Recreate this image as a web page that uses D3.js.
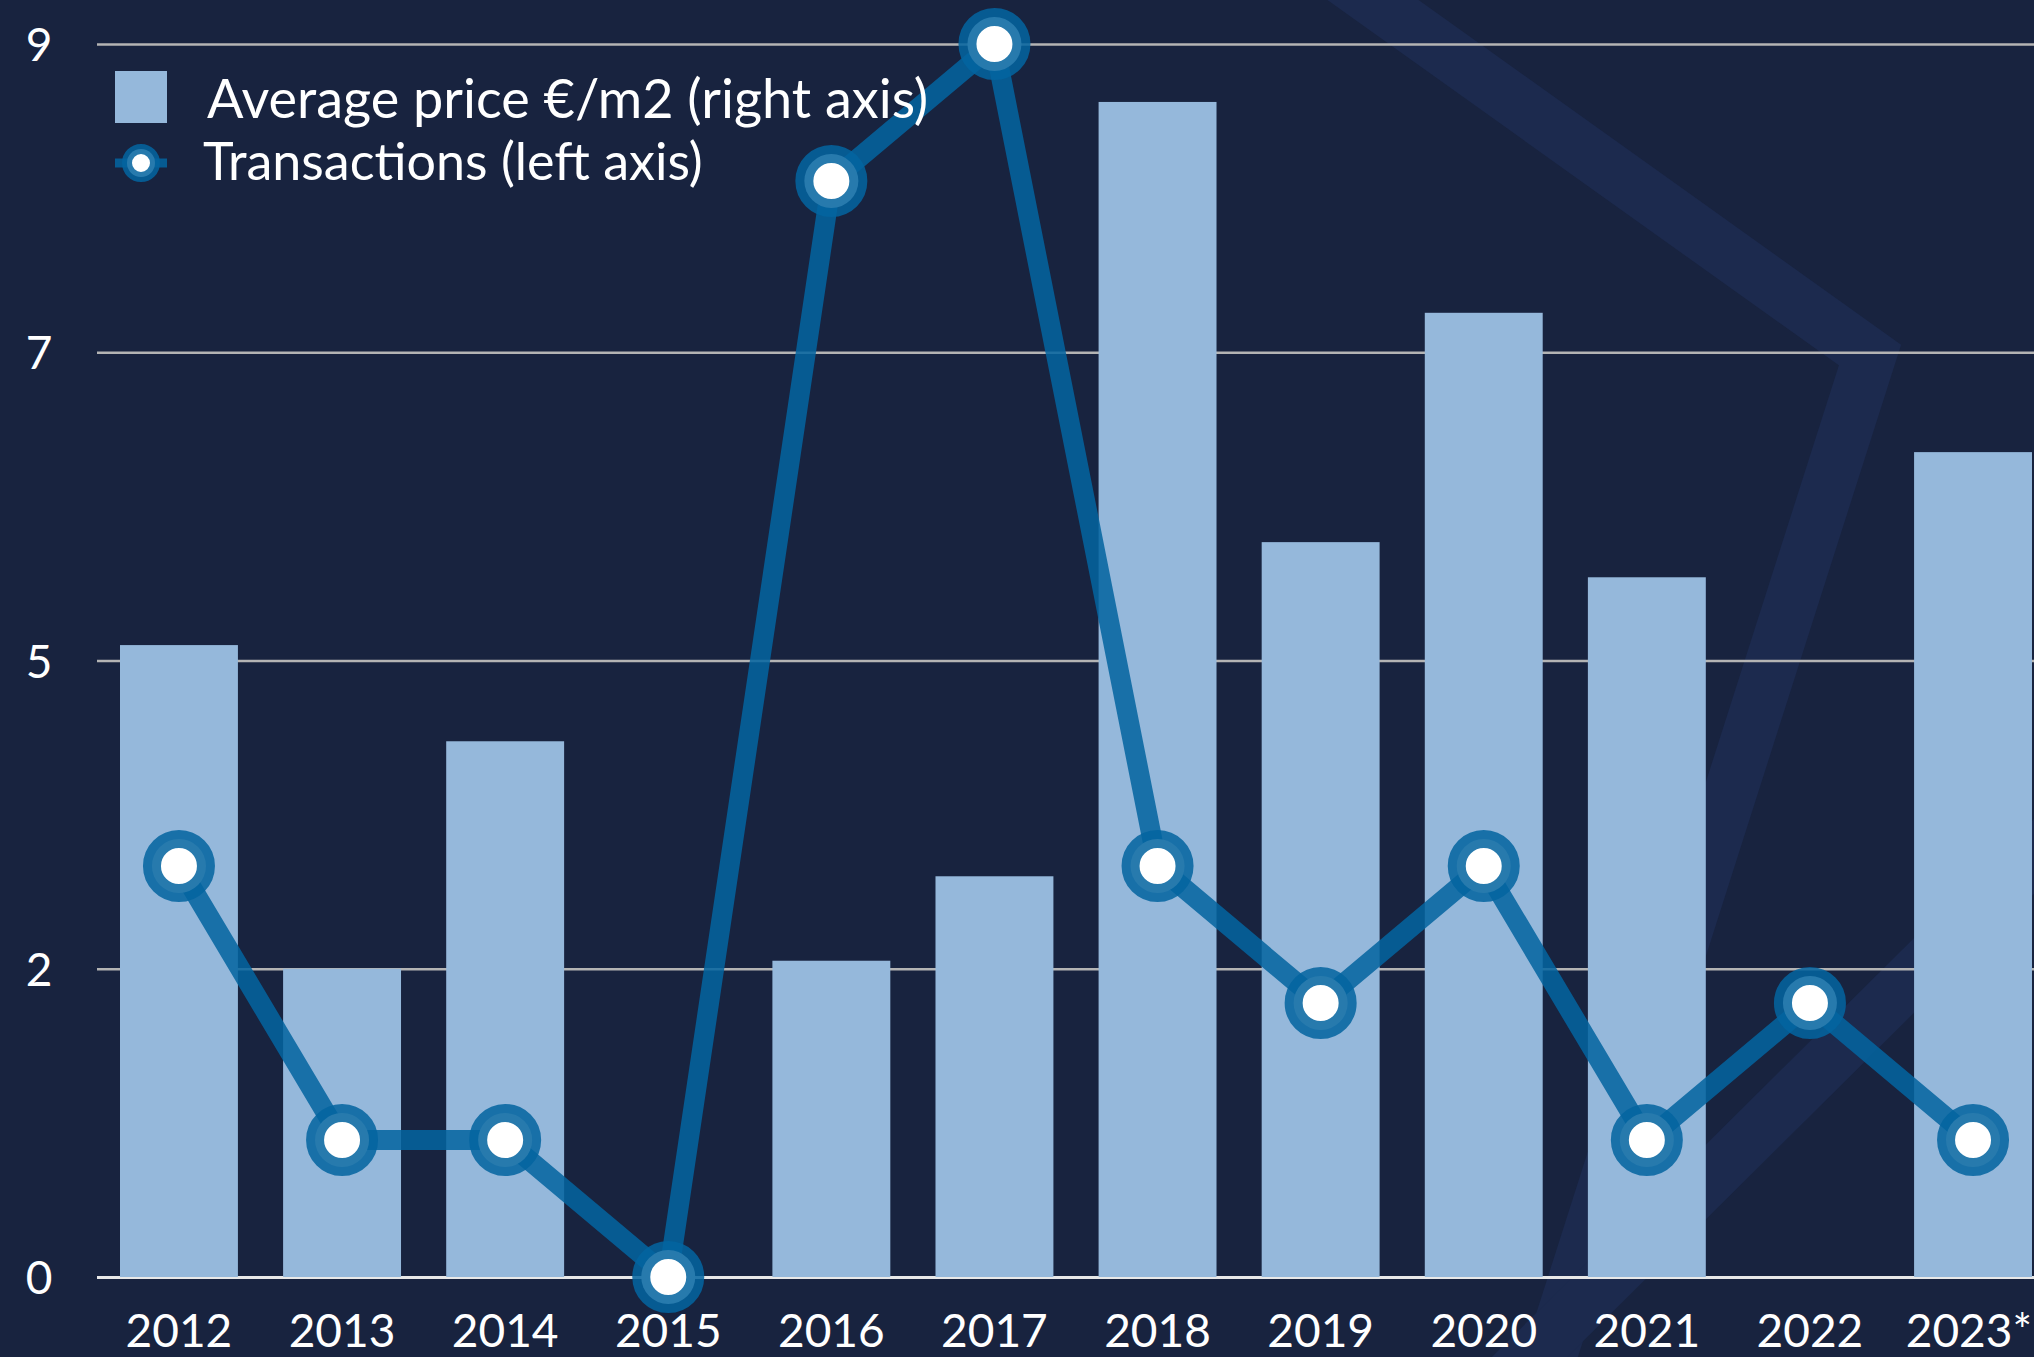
<!DOCTYPE html>
<html>
<head>
<meta charset="utf-8">
<script src="https://cdn.jsdelivr.net/npm/d3@7"></script>
<style>
  body { margin: 0; background: #18233f; }
  svg { display: block; }
  text { font-family: Lato, "Open Sans", sans-serif; fill: #ffffff; }
</style>
</head>
<body>
<div id="chart"></div>
<script>
// values
const years = ["2012", "2013", "2014", "2015", "2016", "2017", "2018", "2019", "2020", "2021", "2022", "2023*"];
const transactions = [3, 1, 1, 0, 8, 9, 3, 2, 3, 1, 2, 1];
const avgPrice = [1025, 500, 869, 0, 513, 650, 1906, 1192, 1564, 1135, 0, 1338];
const leftTicks = [0, 2.25, 4.5, 6.75, 9];
const leftMax = 9;
const rightMax = 2000;
const legendItems = ["Average price €/m2 (right axis)", "Transactions (left axis)"];

const width = 2034, height = 1357;
const margin = { top: 44, right: 0, bottom: 80, left: 97 };
const bg = "#18233f";
const barColor = "#95b8db";
const lineColor = "#03649f";

function drawBackdrop(svg) {
    // faint chevron shapes behind the chart
    const band = svg.append("g")
        .attr("fill", "none")
        .attr("stroke", "#1c2a4e")
        .attr("stroke-width", 53)
        .attr("stroke-linejoin", "miter");
    band.append("polyline").attr("points", "1289,-60 1870,355 1530,1420");
    band.append("polyline").attr("points", "1466,1420 2110,781");
}

function createChart() {
    const svg = d3.select("#chart").append("svg")
        .attr("width", width)
        .attr("height", height);

    svg.append("rect").attr("width", width).attr("height", height).attr("fill", bg);
    drawBackdrop(svg);

    const x = d3.scaleBand()
        .domain(years)
        .range([120, 2032])
        .paddingInner(0.277)
        .paddingOuter(0);

    const yLeft = d3.scaleLinear().domain([0, leftMax]).range([height - margin.bottom, margin.top]);
    const yRight = d3.scaleLinear().domain([0, rightMax]).range([height - margin.bottom, margin.top]);

    // gridlines + left labels
    const yAxis = svg.append("g")
        .attr("transform", `translate(${margin.left},0)`)
        .call(d3.axisLeft(yLeft)
            .tickValues(leftTicks)
            .tickFormat(d3.format(".0f"))
            .tickSize(-(width - margin.left))
            .tickPadding(0));
    yAxis.select(".domain").remove();
    yAxis.selectAll(".tick line")
        .attr("stroke", d => d === 0 ? "#e8e8e8" : "#b4b4b4")
        .attr("stroke-width", d => d === 0 ? 3 : 2.5);
    yAxis.selectAll(".tick text")
        .attr("x", 39 - margin.left)
        .attr("text-anchor", "middle")
        .attr("dy", "0.36em")
        .style("font-size", "46px");

    // bars on the right scale
    svg.append("g").selectAll("rect")
        .data(years)
        .join("rect")
        .attr("x", d => x(d))
        .attr("width", x.bandwidth())
        .attr("y", (d, i) => yRight(avgPrice[i]))
        .attr("height", (d, i) => yRight(0) - yRight(avgPrice[i]))
        .attr("fill", barColor);

    // x labels (last one is flush with the right edge of its bar)
    const last = years[years.length - 1];
    svg.append("g").selectAll("text")
        .data(years)
        .join("text")
        .attr("x", d => d === last ? x(d) + x.bandwidth() : x(d) + x.bandwidth() / 2)
        .attr("y", 1347)
        .attr("text-anchor", d => d === last ? "end" : "middle")
        .style("font-size", "46px")
        .text(d => d);

    // transactions line
    const pts = years.map((d, i) => [x(d) + x.bandwidth() / 2, yLeft(transactions[i])]);
    svg.append("path")
        .datum(pts)
        .attr("d", d3.line())
        .attr("fill", "none")
        .attr("stroke", lineColor)
        .attr("stroke-opacity", 0.86)
        .attr("stroke-width", 20)
        .attr("stroke-linejoin", "round");

    svg.append("g").selectAll("circle")
        .data(pts)
        .join("circle")
        .attr("cx", d => d[0])
        .attr("cy", d => d[1])
        .attr("r", 27)
        .attr("fill", "#ffffff")
        .attr("stroke", lineColor)
        .attr("stroke-opacity", 0.86)
        .attr("stroke-width", 18);

    drawLegend(svg);
}

function drawLegend(svg) {
    const lg = svg.append("g");

    lg.append("rect")
        .attr("x", 115).attr("y", 71)
        .attr("width", 52).attr("height", 52)
        .attr("fill", barColor);
    lg.append("text")
        .attr("x", 207).attr("y", 118)
        .style("font-size", "54px")
        .text(legendItems[0]);

    lg.append("line")
        .attr("x1", 115).attr("x2", 167)
        .attr("y1", 163).attr("y2", 163)
        .attr("stroke", lineColor)
        .attr("stroke-opacity", 0.86)
        .attr("stroke-width", 9);
    lg.append("circle")
        .attr("cx", 141).attr("cy", 163).attr("r", 14)
        .attr("fill", "#ffffff")
        .attr("stroke", lineColor)
        .attr("stroke-opacity", 0.86)
        .attr("stroke-width", 10);
    lg.append("text")
        .attr("x", 203).attr("y", 180)
        .style("font-size", "52px")
        .text(legendItems[1]);
}

document.addEventListener("DOMContentLoaded", () => {
    createChart();
});
</script>
</body>
</html>
